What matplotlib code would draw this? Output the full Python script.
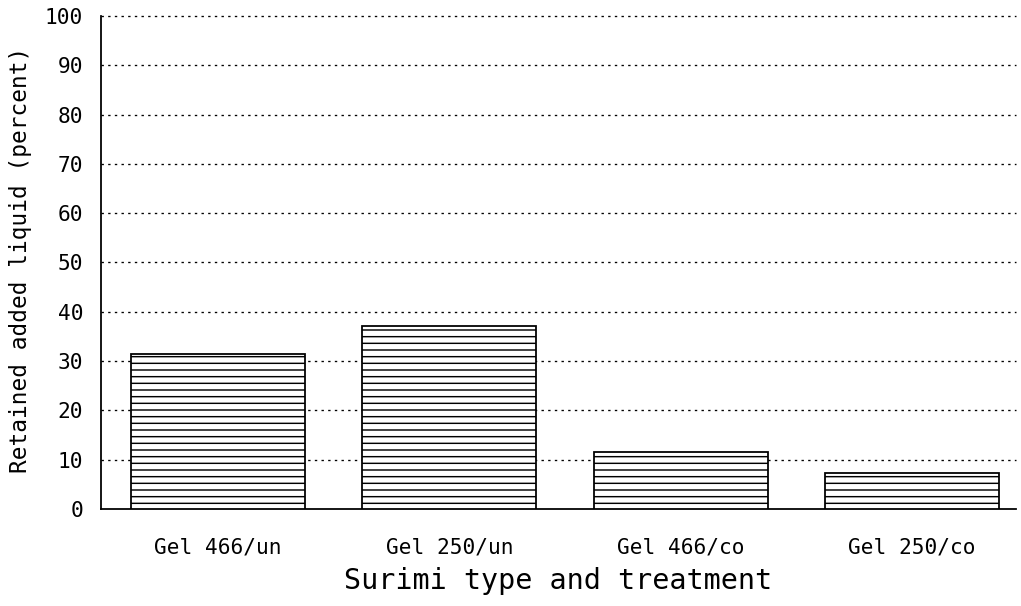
import matplotlib
matplotlib.use("Agg")
import matplotlib.pyplot as plt

# Retained added liquid by surimi type and treatment
categories = ["Gel 466/un", "Gel 250/un", "Gel 466/co", "Gel 250/co"]
retained_pct = [31.5, 37.1, 11.6, 7.3]
y_ticks = [0, 10, 20, 30, 40, 50, 60, 70, 80, 90, 100]

DPI = 80
plt.rcParams["font.family"] = ["DejaVu Sans Mono"]
plt.rcParams["hatch.linewidth"] = 1.3
plt.rcParams["hatch.color"] = "black"

fig = plt.figure(figsize=(1021 / DPI, 606 / DPI), dpi=DPI)
W, H = 1021, 606
left, right, top, bottom = 101, 1016, 11, 509
ax = fig.add_axes([left / W, 1 - bottom / H, (right - left) / W, (bottom - top) / H])

x = list(range(len(categories)))
ax.bar(x, retained_pct, width=0.753, color="white", edgecolor="black",
       linewidth=1.6, hatch="--", zorder=3)

ax.set_xlim(-0.506, 3.45)
ax.set_ylim(0, 101)
ax.set_yticks(y_ticks)
ax.set_yticklabels([str(v) for v in y_ticks])
ax.set_xticks(x)
ax.set_xticklabels(categories)

# dotted horizontal guide lines behind the bars
for v in y_ticks[1:]:
    ax.axhline(v, color="black", linewidth=1.2, linestyle=(0, (1.8, 3.2)),
               zorder=1, clip_on=False)

for s in ("top", "right"):
    ax.spines[s].set_visible(False)
ax.spines["left"].set_bounds(0, 100)
ax.spines["left"].set_linewidth(1.6)
ax.spines["bottom"].set_linewidth(1.6)

ax.tick_params(axis="y", length=0, pad=16, labelsize=19)
ax.tick_params(axis="x", length=0, pad=26, labelsize=19)

ax.set_ylabel("Retained added liquid (percent)", fontsize=20.5, labelpad=12)
ax.set_xlabel("Surimi type and treatment", fontsize=25.5, labelpad=8)

fig.savefig("out.png", dpi=DPI, facecolor="white")
